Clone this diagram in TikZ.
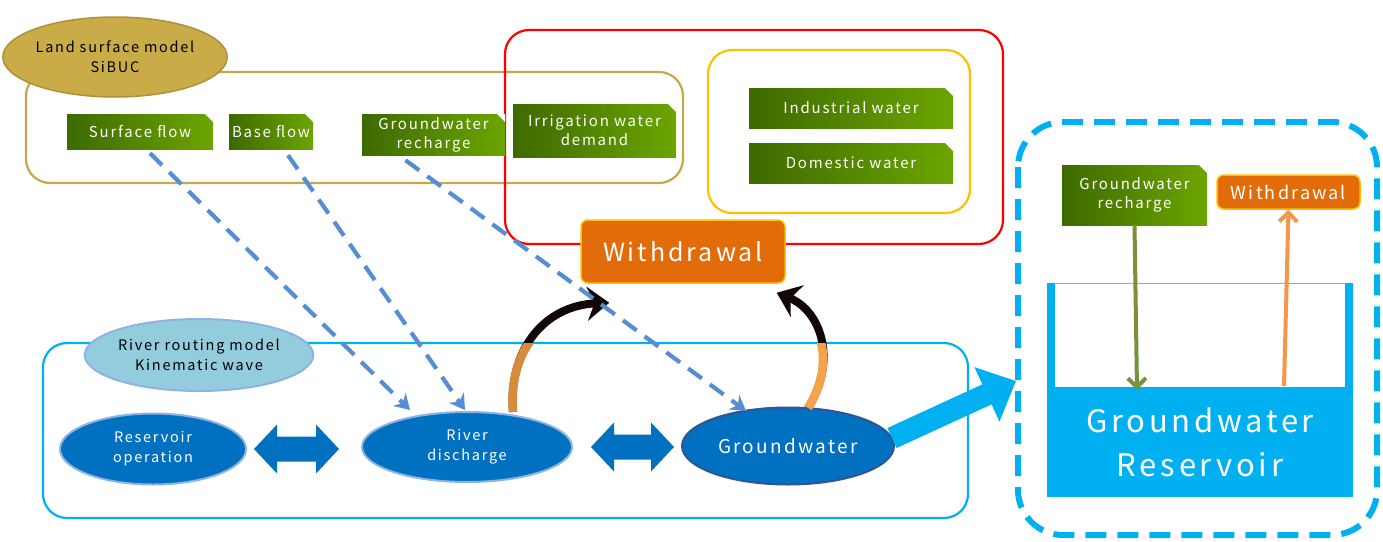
\documentclass[tikz,border=0pt]{standalone}
\usepackage{fontspec}
\setmainfont{Noto Sans CJK JP}[LetterSpace=12]
\usetikzlibrary{calc,arrows.meta,shapes.geometric}
\definecolor{gL}{HTML}{3D6A00}
\definecolor{gR}{HTML}{6CA500}
\definecolor{tan}{HTML}{C6A84A}
\definecolor{tanF}{HTML}{C9AB48}
\definecolor{tanD}{HTML}{B09038}
\definecolor{redc}{HTML}{FF0000}
\definecolor{yelc}{HTML}{FFC000}
\definecolor{orc}{HTML}{E36C0A}
\definecolor{cyc}{HTML}{00B0F0}
\definecolor{dbl}{HTML}{0070C0}
\definecolor{lbl}{HTML}{8DB3E2}
\definecolor{sky}{HTML}{93CDDD}
\definecolor{dash}{HTML}{558ED5}
\definecolor{blk}{HTML}{120606}
\definecolor{or1}{HTML}{D98B3C}
\definecolor{or2}{HTML}{F5A24C}
\definecolor{grA}{HTML}{76923C}
\definecolor{orA}{HTML}{F79646}
\definecolor{gwB}{HTML}{2F5597}
\newcommand\gtxt{\fontsize{15}{19}\selectfont}
\newcommand\etxt{\fontsize{14.5}{20}\selectfont}
\tikzset{
  gbox/.style={rectangle, inner sep=0pt, left color=gL, right color=gR,
    text=white, align=center, font=\gtxt,
    path picture={\fill[white] ($(path picture bounding box.north east)+(-9pt,1pt)$) -- ($(path picture bounding box.north east)+(1pt,1pt)$) -- ++(0,-10pt) -- cycle;}},
  wbox/.style={rectangle, rounded corners=7pt, fill=orc, draw=yelc, line width=1.5pt, text=white, inner sep=0pt, align=center},
  frame/.style={rounded corners=24pt, line width=2.2pt},
  bell/.style={ellipse, inner sep=0pt, fill=dbl, draw=lbl, line width=2pt, text=white, align=center, font=\etxt},
  dashedarrow/.style={draw=dash, line width=4.2pt, dash pattern=on 17pt off 10pt, -{Stealth[length=15pt,width=18pt,inset=5pt]}},
}
\begin{document}
\begin{tikzpicture}[x=1pt,y=-1pt]
\useasboundingbox (0,0) rectangle (1383,541);
% frames
\draw[frame, draw=tan] (26,72) rectangle (683,183);
\draw[frame, draw=redc] (505,30) rectangle (1003,244);
\draw[frame, draw=yelc] (708,50) rectangle (970,213);
\draw[frame, draw=cyc] (43,343) rectangle (968,518);
\draw[draw=cyc, line width=6pt, rounded corners=45pt, dash pattern=on 21pt off 11pt] (1018,122) rectangle (1377,535);
% titles
\node[ellipse, minimum width=214pt, minimum height=80pt, inner sep=0pt, fill=tanF, draw=tanD, line width=1.5pt, align=center, font=\etxt] (lsm) at (115,57) {Land surface model\\SiBUC};
\node[ellipse, minimum width=226pt, minimum height=72pt, inner sep=0pt, fill=sky, draw=lbl, line width=2pt, align=center, font=\etxt] (rrm) at (199,355) {River routing model\\Kinematic wave};
% green boxes
\node[gbox, minimum width=146pt, minimum height=35pt] (sf) at (140,131.5) {Surface flow};
\node[gbox, minimum width=84pt, minimum height=35pt] (bf) at (271,131.5) {Base flow};
\node[gbox, minimum width=143pt, minimum height=41pt] (gr) at (433.5,134.5) {Groundwater\\recharge};
\node[gbox, minimum width=163pt, minimum height=53pt] (iw) at (594.5,130.5) {Irrigation water\\demand};
\node[gbox, minimum width=204pt, minimum height=40pt] (ind) at (851,108) {Industrial water};
\node[gbox, minimum width=204pt, minimum height=40pt] (dom) at (851,163) {Domestic water};
% withdrawal
\node[wbox, minimum width=204pt, minimum height=63pt, font=\fontsize{25}{30}\selectfont] (wd) at (683,251.5) {Withdrawal};
% lower ellipses
\node[bell, minimum width=186pt, minimum height=71pt] (res) at (153,449) {Reservoir\\operation};
\node[bell, minimum width=210pt, minimum height=70pt] (rd) at (467,447) {River\\discharge};
\node[bell, draw=gwB, minimum width=212pt, minimum height=77pt, font=\fontsize{19}{22}\selectfont] (gw) at (788,446) {Groundwater};
% double arrows
\fill[dbl] let \p1=($(res.east)+(7,0)$), \p2=($(rd.west)+(-22,0)$) in
  (\x1,\y1) -- (\x1+23pt,\y1+24.5pt) -- (\x1+23pt,\y1+12.5pt) -- (\x2-23pt,\y1+12.5pt) -- (\x2-23pt,\y1+24.5pt)
  -- (\x2,\y1) -- (\x2-23pt,\y1-24.5pt) -- (\x2-23pt,\y1-12.5pt) -- (\x1+23pt,\y1-12.5pt) -- (\x1+23pt,\y1-24.5pt) -- cycle;
\fill[dbl] let \p1=($(rd.east)+(18,0)$), \p2=($(gw.west)+(-7,0)$) in
  (\x1,\y1) -- (\x1+23pt,\y1+24.5pt) -- (\x1+23pt,\y1+12.5pt) -- (\x2-23pt,\y1+12.5pt) -- (\x2-23pt,\y1+24.5pt)
  -- (\x2,\y1) -- (\x2-23pt,\y1-24.5pt) -- (\x2-23pt,\y1-12.5pt) -- (\x1+23pt,\y1-12.5pt) -- (\x1+23pt,\y1-24.5pt) -- cycle;
% curved withdrawal arrows
\coordinate (c1s) at ($(rd.center)+(46,-35)$);
\coordinate (c1e) at ($(wd.south west)+(29,19)$);
\coordinate (c2s) at ($(gw.center)+(20,-38)$);
\coordinate (c2e) at ($(wd.south east)+(-9,9)$);
\draw[line width=8pt, draw=blk, -{Stealth[length=22pt,width=34pt]}] (c1s) .. controls +(-5,-62) and +(-65,3) .. (c1e);
\draw[line width=8pt, draw=blk, -{Stealth[length=22pt,width=34pt]}] (c2s) .. controls +(30,-48) and +(44,18) .. (c2e);
\begin{scope}
\clip (0,343) rectangle (1383,541);
\draw[line width=8.6pt, draw=or1] (c1s) .. controls +(-5,-62) and +(-65,3) .. (c1e);
\draw[line width=8.6pt, draw=or2] (c2s) .. controls +(30,-48) and +(44,18) .. (c2e);
\end{scope}
% dashed flows
\draw[dashedarrow] ($(sf.south)+(10,4)$) -- ($(rd.center)+(-57,-37)$);
\draw[dashedarrow] ($(bf.south)+(17,6)$) -- ($(rd.center)+(-2,-37)$);
\draw[dashedarrow] ($(gr.south)+(-28,5)$) -- ($(gw.center)+(-42,-35)$);
% big arrow to reservoir
\coordinate (bigtip) at (1016,381);
\draw[line width=22pt, draw=cyc, -{Triangle[length=32pt,width=58pt]}] ($(gw.center)+(104,-8)$) -- (bigtip);
% reservoir panel
\fill[cyc] (1047,283) rectangle (1353,497);
\fill[white] (1055,283) rectangle (1345,387);
\draw[gray!70, line width=0.8pt] (1055,283) -- (1345,283);
\node[text=white, align=center, font=\fontsize{31}{44}\selectfont] (gwr) at (1200,442) {Groundwater\\Reservoir};
\node[gbox, minimum width=145pt, minimum height=60pt] (gr2) at (1134.5,195) {Groundwater\\recharge};
\node[wbox, minimum width=143pt, minimum height=34pt, font=\fontsize{18}{20}\selectfont] (wd2) at (1288.5,192) {Withdrawal};
\coordinate (tankin) at (1137,390);
\coordinate (tankout) at (1284,386);
\draw[draw=grA, line width=4pt, -{Straight Barb[length=9pt,width=18pt]}] (gr2.south) -- (tankin);
\draw[draw=orA, line width=4pt, -{Straight Barb[length=9pt,width=18pt]}] (tankout) -- (wd2.south);
\end{tikzpicture}
\end{document}
